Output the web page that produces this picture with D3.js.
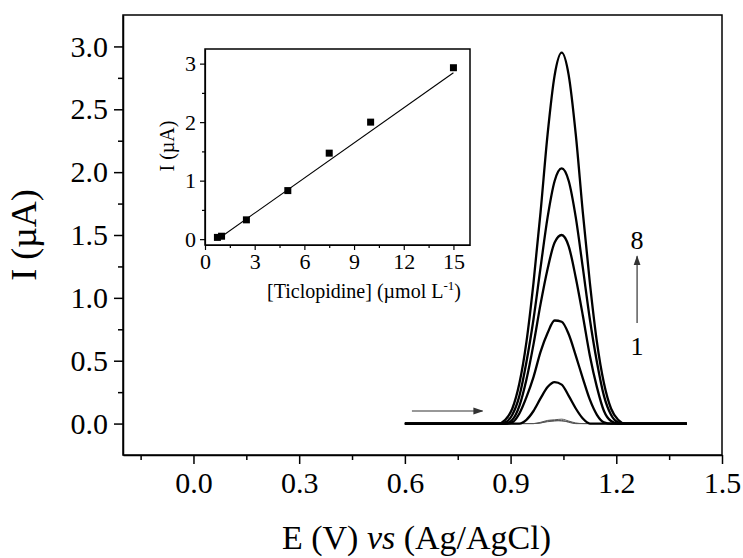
<!DOCTYPE html>
<html>
<head>
<meta charset="utf-8">
<script src="https://cdn.jsdelivr.net/npm/d3@7"></script>
<style>
    body { margin: 0; background: #fff; }
    svg text { font-family: "Liberation Serif", "Times New Roman", serif; fill: #000; }
    .axis path, .axis line { stroke: #000; stroke-width: 1.5px; }
</style>
</head>
<body>
<div class="chart"></div>
<script>
'use strict';

// potential grid (V) shared by all voltammograms
var potentials = [0.60, 0.80, 0.865, 0.885, 0.905, 0.925, 0.945, 0.965, 0.985, 1.005, 1.025, 1.045,
    1.065, 1.085, 1.105, 1.125, 1.145, 1.165, 1.185, 1.205, 1.225, 1.245, 1.30, 1.40];

// currents (uA), curves 1..8
var curve1 = [0, 0, 0, 0, 0, 0, 0, 0, 0.010, 0.025, 0.030, 0.035, 0.020, 0.005, 0, 0, 0, 0, 0, 0, 0, 0, 0, 0];
var curve2 = [0, 0, 0, 0, 0, 0, 0, 0, 0.005, 0.020, 0.025, 0.020, 0.015, 0, 0, 0, 0, 0, 0, 0, 0, 0, 0, 0];
var curve3 = [0, 0, 0, 0, 0, 0, 0, 0, 0.005, 0.015, 0.020, 0.025, 0.010, 0, 0, 0, 0, 0, 0, 0, 0, 0, 0, 0];
var curve4 = [0, 0, 0, 0, 0, 0, 0.03, 0.10, 0.20, 0.29, 0.33, 0.31, 0.22, 0.12, 0.04, 0, 0, 0, 0, 0, 0, 0, 0, 0];
var curve5 = [0, 0, 0, 0, 0.01, 0.08, 0.21, 0.37, 0.57, 0.72, 0.82, 0.81, 0.71, 0.54, 0.36, 0.19, 0.07, 0.01, 0, 0, 0, 0, 0, 0];
var curve6 = [0, 0, 0, 0, 0.03, 0.14, 0.35, 0.63, 0.95, 1.23, 1.44, 1.50, 1.41, 1.16, 0.86, 0.54, 0.29, 0.10, 0.02, 0, 0, 0, 0, 0];
var curve7 = [0, 0, 0, 0.01, 0.07, 0.22, 0.49, 0.83, 1.24, 1.64, 1.93, 2.03, 1.93, 1.64, 1.24, 0.83, 0.49, 0.22, 0.07, 0.01, 0, 0, 0, 0];
var curve8 = [0, 0, 0, 0.03, 0.12, 0.32, 0.65, 1.12, 1.68, 2.30, 2.77, 2.95, 2.77, 2.30, 1.68, 1.12, 0.65, 0.32, 0.12, 0.03, 0, 0, 0, 0];

var thinCurves = [curve1, curve2, curve3];
var thickCurves = [curve4, curve5, curve6, curve7, curve8];

// inset calibration
var concentrations = [0.75, 1.0, 2.5, 5.0, 7.5, 10.0, 15.0];
var peakCurrents = [0.03, 0.05, 0.33, 0.83, 1.47, 2.00, 2.93];
var fitX = [0.75, 15.0];
var fitY = [-0.005, 2.845];

var xTicks = [0, 0.3, 0.6, 0.9, 1.2, 1.5];
var xMinorTicks = [-0.15, 0.15, 0.45, 0.75, 1.05, 1.35];
var yTicks = [0, 0.5, 1.0, 1.5, 2.0, 2.5, 3.0];
var yMinorTicks = [0.25, 0.75, 1.25, 1.75, 2.25, 2.75];
var insetXTicks = [0, 3, 6, 9, 12, 15];
var insetXMinor = [1.5, 4.5, 7.5, 10.5, 13.5];
var insetYTicks = [0, 1, 2, 3];
var insetYMinor = [0.5, 1.5, 2.5];

var W = 743, H = 558;
var margin = {top: 15, right: 21, bottom: 103, left: 123};
var width = W - margin.left - margin.right;
var height = H - margin.top - margin.bottom;

var svg = d3.select(".chart")
    .append("svg")
    .attr("width", W)
    .attr("height", H);

var defs = svg.append("defs");
defs.append("marker")
    .attr("id", "head")
    .attr("viewBox", "0 0 10 10")
    .attr("refX", 9)
    .attr("refY", 5)
    .attr("markerWidth", 10)
    .attr("markerHeight", 10)
    .attr("markerUnits", "userSpaceOnUse")
    .attr("orient", "auto")
    .append("path")
    .attr("d", "M0,1.5L10,5L0,8.5Z")
    .attr("fill", "#333");

var g = svg.append("g")
    .attr("transform", "translate(" + margin.left + "," + margin.top + ")");

var x = d3.scaleLinear().domain([-0.2, 1.5]).range([0, width]);
var y = d3.scaleLinear().domain([-0.25, 3.25]).range([height, 0]);

// frame
g.append("rect")
    .attr("width", width)
    .attr("height", height)
    .attr("fill", "none")
    .attr("stroke", "#000")
    .attr("stroke-width", 1.5);

g.append("g")
    .attr("class", "axis")
    .attr("transform", "translate(0," + height + ")")
    .call(d3.axisBottom(x).tickValues(xMinorTicks).tickSize(5).tickFormat(""))
    .call(function(a) { a.select(".domain").remove(); });

g.append("g")
    .attr("class", "axis")
    .attr("transform", "translate(0," + height + ")")
    .call(d3.axisBottom(x).tickValues(xTicks).tickSize(9).tickSizeOuter(0).tickPadding(8).tickFormat(d3.format(".1f")))
    .call(function(a) { a.selectAll("text").attr("font-size", 30); });

g.append("g")
    .attr("class", "axis")
    .call(d3.axisLeft(y).tickValues(yMinorTicks).tickSize(5).tickFormat(""))
    .call(function(a) { a.select(".domain").remove(); });

g.append("g")
    .attr("class", "axis")
    .call(d3.axisLeft(y).tickValues(yTicks).tickSize(9).tickSizeOuter(0).tickPadding(6).tickFormat(d3.format(".1f")))
    .call(function(a) { a.selectAll("text").attr("font-size", 30); });

// axis titles
var xt = svg.append("text")
    .attr("x", margin.left + width / 2 - 6)
    .attr("y", 549)
    .attr("text-anchor", "middle")
    .attr("font-size", 34);
xt.append("tspan").text("E (V) ");
xt.append("tspan").attr("font-style", "italic").text("vs");
xt.append("tspan").text(" (Ag/AgCl)");

svg.append("text")
    .attr("transform", "translate(36," + (margin.top + height / 2) + ") rotate(-90)")
    .attr("text-anchor", "middle")
    .attr("font-size", 36)
    .text("I (\u00b5A)");

// voltammograms
var line = d3.line()
    .x(function(d) { return x(d[0]); })
    .y(function(d) { return y(d[1]); })
    .curve(d3.curveMonotoneX);

thinCurves.forEach(function(c) {
    g.append("path")
        .datum(d3.zip(potentials, c))
        .attr("d", line)
        .attr("fill", "none")
        .attr("stroke", "#555")
        .attr("stroke-width", 1);
});

thickCurves.forEach(function(c) {
    g.append("path")
        .datum(d3.zip(potentials, c))
        .attr("d", line)
        .attr("fill", "none")
        .attr("stroke", "#000")
        .attr("stroke-width", 2.3);
});

// scan direction arrow
g.append("line")
    .attr("x1", x(0.62)).attr("y1", y(0.1))
    .attr("x2", x(0.82)).attr("y2", y(0.1))
    .attr("stroke", "#333")
    .attr("stroke-width", 1.2)
    .attr("marker-end", "url(#head)");

// 1 -> 8 arrow
g.append("line")
    .attr("x1", x(1.259)).attr("y1", y(0.80))
    .attr("x2", x(1.259)).attr("y2", y(1.33))
    .attr("stroke", "#333")
    .attr("stroke-width", 1.2)
    .attr("marker-end", "url(#head)");

g.append("text")
    .attr("x", x(1.259))
    .attr("y", y(1.46) + 9)
    .attr("text-anchor", "middle")
    .attr("font-size", 26)
    .text("8");

g.append("text")
    .attr("x", x(1.259))
    .attr("y", y(0.62) + 9)
    .attr("text-anchor", "middle")
    .attr("font-size", 26)
    .text("1");

// inset
var ins = {left: 205, top: 49, width: 265, height: 196};
var ig = svg.append("g")
    .attr("transform", "translate(" + ins.left + "," + ins.top + ")");

var ix = d3.scaleLinear().domain([0, 16]).range([0, ins.width]);
var iy = d3.scaleLinear().domain([-0.1, 3.25]).range([ins.height, 0]);

ig.append("rect")
    .attr("width", ins.width)
    .attr("height", ins.height)
    .attr("fill", "#fff")
    .attr("stroke", "#000")
    .attr("stroke-width", 1.5);

ig.append("g")
    .attr("class", "axis")
    .attr("transform", "translate(0," + ins.height + ")")
    .call(d3.axisBottom(ix).tickValues(insetXMinor).tickSize(3).tickFormat(""))
    .call(function(a) { a.select(".domain").remove(); });

ig.append("g")
    .attr("class", "axis")
    .attr("transform", "translate(0," + ins.height + ")")
    .call(d3.axisBottom(ix).tickValues(insetXTicks).tickSize(5).tickSizeOuter(0).tickPadding(3).tickFormat(d3.format("d")))
    .call(function(a) { a.selectAll("text").attr("font-size", 22); });

ig.append("g")
    .attr("class", "axis")
    .call(d3.axisLeft(iy).tickValues(insetYMinor).tickSize(3).tickFormat(""))
    .call(function(a) { a.select(".domain").remove(); });

ig.append("g")
    .attr("class", "axis")
    .call(d3.axisLeft(iy).tickValues(insetYTicks).tickSize(5).tickSizeOuter(0).tickPadding(4).tickFormat(d3.format("d")))
    .call(function(a) { a.selectAll("text").attr("font-size", 22); });

ig.selectAll(".axis path, .axis line").style("stroke-width", "1.2px");

ig.append("path")
    .datum(d3.zip(fitX, fitY))
    .attr("d", d3.line().x(function(d) { return ix(d[0]); }).y(function(d) { return iy(d[1]); }))
    .attr("stroke", "#000")
    .attr("stroke-width", 1.1)
    .attr("fill", "none");

ig.selectAll(".pt")
    .data(d3.zip(concentrations, peakCurrents))
    .enter()
    .append("rect")
    .attr("class", "pt")
    .attr("x", function(d) { return ix(d[0]) - 3.5; })
    .attr("y", function(d) { return iy(d[1]) - 3.5; })
    .attr("width", 7)
    .attr("height", 7)
    .attr("fill", "#000");

var it = svg.append("text")
    .attr("x", 364)
    .attr("y", 298)
    .attr("text-anchor", "middle")
    .attr("font-size", 20);
it.append("tspan").text("[Ticlopidine] (\u00b5mol L");
it.append("tspan").attr("font-size", 13).attr("dy", -8).text("-1");
it.append("tspan").attr("dy", 8).text(")");

svg.append("text")
    .attr("transform", "translate(174," + (ins.top + 97) + ") rotate(-90)")
    .attr("text-anchor", "middle")
    .attr("font-size", 20)
    .text("I (\u00b5A)");
</script>
</body>
</html>
